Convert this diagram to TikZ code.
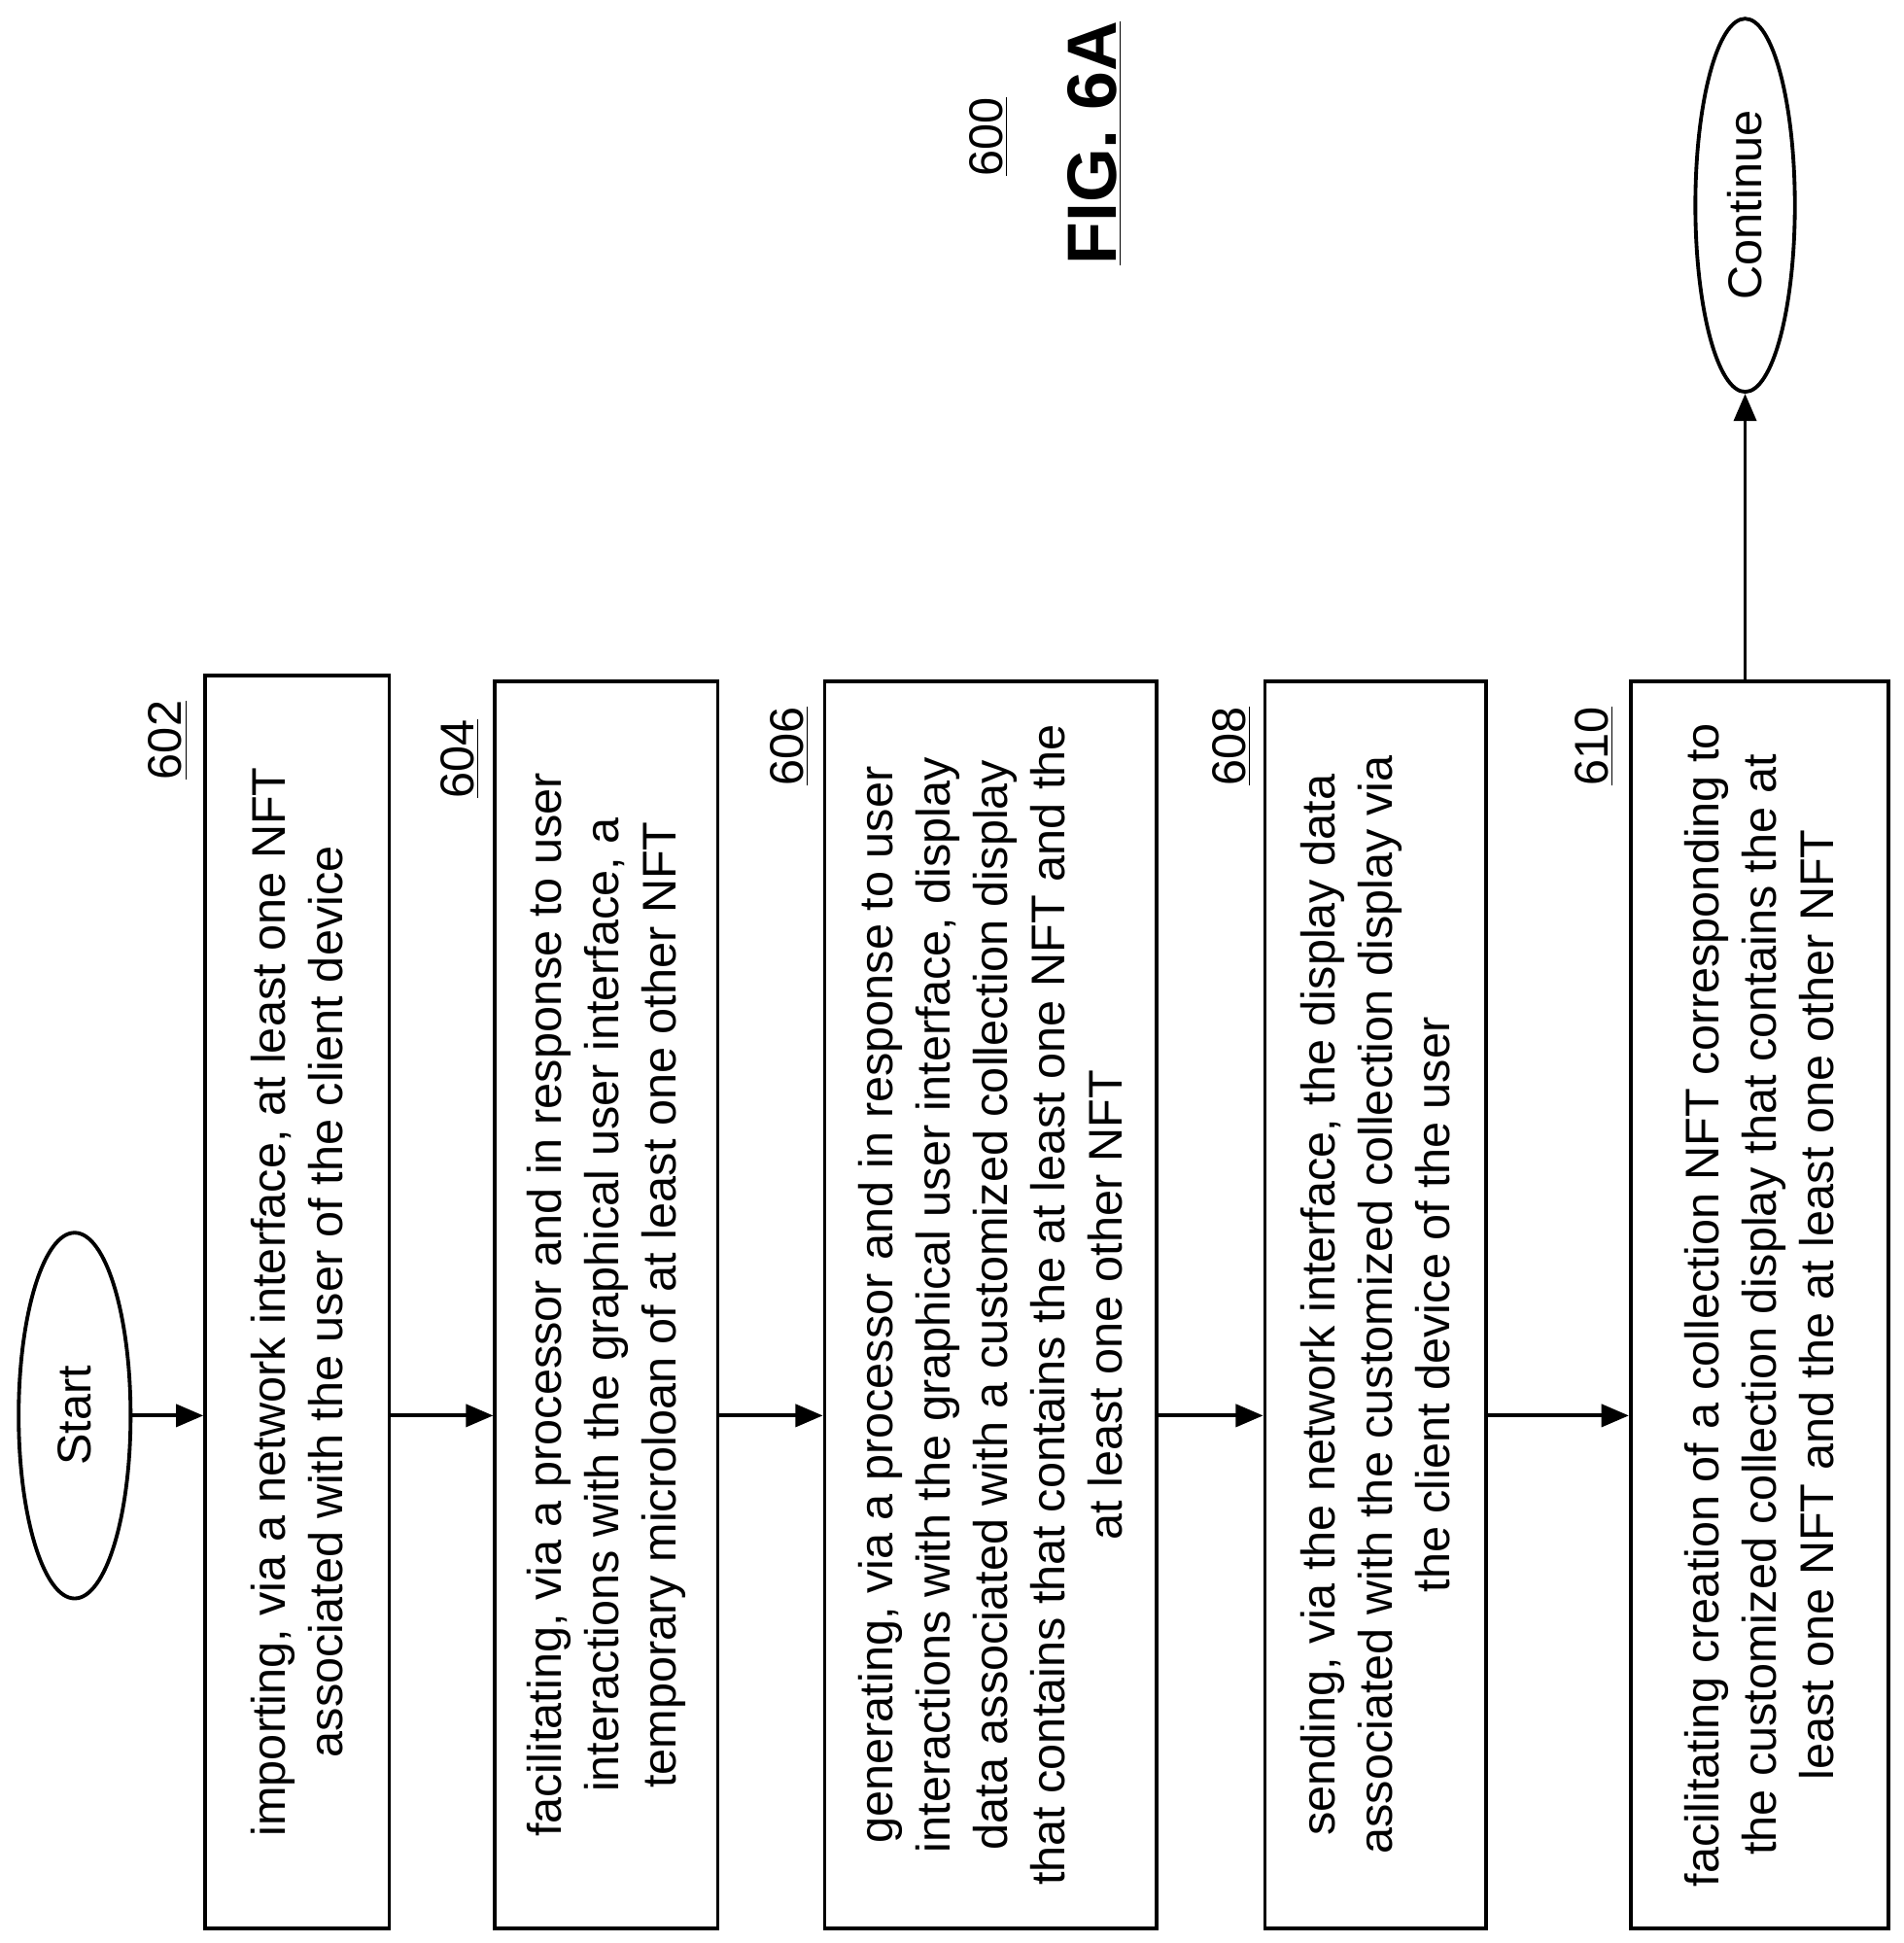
\documentclass[tikz,border=0pt]{standalone}
\usepackage{fontspec}
\setmainfont{Liberation Sans}
\usetikzlibrary{shapes.geometric,arrows.meta}
\begin{document}
\begin{tikzpicture}[x=0.5pt,y=-0.5pt,
  box/.style={draw,line width=1.5pt,rectangle,inner sep=0pt},
  txt/.style={rotate=90,align=center,font=\fontsize{19}{23}\selectfont,inner sep=0pt},
  lab/.style={rotate=90,font=\fontsize{19}{23}\selectfont,inner sep=0pt},
  arr/.style={line width=1.5pt,-{Triangle[length=11pt,width=9pt]}},
  ell/.style={draw,line width=1.5pt,ellipse,inner sep=0pt}]
\useasboundingbox (0,0) rectangle (1530,1562);
\node[ell,minimum width=45pt,minimum height=147pt] (start) at (60,1138) {};
\node[lab] at (start) {Start};
\node[ell,minimum width=40pt,minimum height=150pt] (cont) at (1403,165) {};
\node[lab] at (cont) {Continue};
\node[lab] at (795,110) {\underline{600}};
\node[lab,font=\bfseries\fontsize{28}{32}\selectfont] at (880,115) {\underline{FIG. 6A}};
% boxes
\node[box,minimum width=74pt,minimum height=503.5pt] (b602) at (239,1046.5) {};
\node[box,minimum width=89.5pt,minimum height=501pt] (b604) at (487.5,1049) {};
\node[box,minimum width=133.5pt,minimum height=501pt] (b606) at (796.5,1049) {};
\node[box,minimum width=89pt,minimum height=501pt] (b608) at (1106,1049) {};
\node[box,minimum width=103.5pt,minimum height=501pt] (b610) at (1414.5,1049) {};
\node[lab] at (135,595) {\underline{602}};
\node[lab] at (370,610) {\underline{604}};
\node[lab] at (635,600) {\underline{606}};
\node[lab] at (990,600) {\underline{608}};
\node[lab] at (1282,600) {\underline{610}};
\node[txt] at (b602) {importing, via a network interface, at least one NFT\\associated with the user of the client device};
\node[txt] at (b604) {facilitating, via a processor and in response to user\\interactions with the graphical user interface, a\\temporary microloan of at least one other NFT};
\node[txt] at (b606) {generating, via a processor and in response to user\\interactions with the graphical user interface, display\\data associated with a customized collection display\\that contains that contains the at least one NFT and the\\at least one other NFT};
\node[txt] at (b608) {sending, via the network interface, the display data\\associated with the customized collection display via\\the client device of the user};
\node[txt] at (b610) {facilitating creation of a collection NFT corresponding to\\the customized collection display that contains the at\\least one NFT and the at least one other NFT};
% arrows
\draw[arr] (start.east) -- (b602.west |- start.east);
\draw[arr] (b602.east |- start.east) -- (b604.west |- start.east);
\draw[arr] (b604.east |- start.east) -- (b606.west |- start.east);
\draw[arr] (b606.east |- start.east) -- (b608.west |- start.east);
\draw[arr] (b608.east |- start.east) -- (b610.west |- start.east);
\draw[arr] (cont.south |- b610.north) -- (cont.south);
\end{tikzpicture}
\end{document}
